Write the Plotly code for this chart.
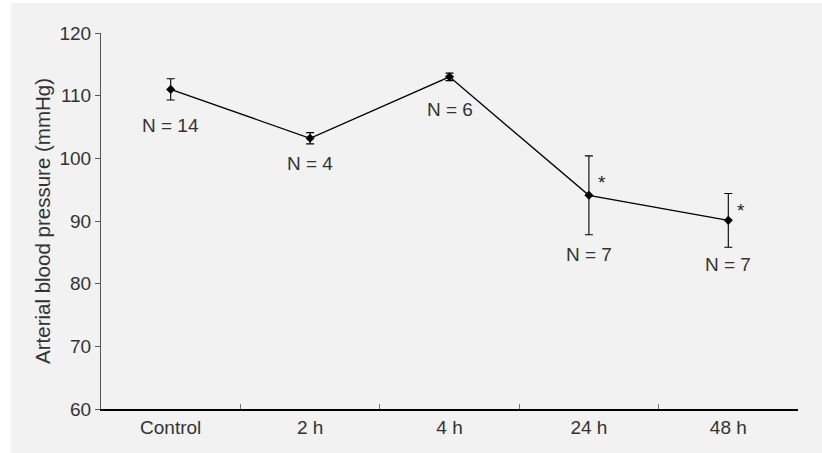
import plotly.graph_objects as go

categories = ["Control", "2 h", "4 h", "24 h", "48 h"]
pressure = [111.0, 103.2, 113.0, 94.1, 90.1]
error = [1.7, 0.9, 0.6, 6.3, 4.3]
n_labels = ["N = 14", "N = 4", "N = 6", "N = 7", "N = 7"]
n_label_y = [105.3, 99.2, 107.8, 84.7, 83.0]
significant = [False, False, False, True, True]
star_y = [None, None, None, 96.1, 91.6]

FONT = "Liberation Sans, Arial, sans-serif"

fig = go.Figure()
fig.add_trace(go.Scatter(
    x=categories, y=pressure, mode="lines+markers",
    line=dict(color="black", width=1.3),
    marker=dict(symbol="diamond", size=7, color="black"),
    error_y=dict(type="data", array=error, visible=True, color="black",
                 thickness=1.1, width=4),
    showlegend=False, hoverinfo="skip",
))

for c, t, yy in zip(categories, n_labels, n_label_y):
    fig.add_annotation(x=c, y=yy, text=t, showarrow=False,
                       font=dict(family=FONT, size=19, color="#333333"),
                       xanchor="center", yanchor="middle")

for c, s, yy in zip(categories, significant, star_y):
    if s:
        fig.add_annotation(x=c, y=yy, text="*", showarrow=False, xshift=13,
                           font=dict(family=FONT, size=19, color="#222222"),
                           xanchor="center", yanchor="middle")

fig.add_shape(type="rect", xref="paper", yref="paper",
              x0=-0.129, x1=1.1, y0=-0.3, y1=1.0798,
              fillcolor="#f2f2f2", line=dict(width=0), layer="below")

fig.update_layout(
    width=822, height=453,
    margin=dict(l=101, r=24, t=33, b=44),
    paper_bgcolor="#f2f2f2", plot_bgcolor="rgba(0,0,0,0)",
    font=dict(family=FONT, size=19, color="#333333"),
    xaxis=dict(
        type="category", categoryorder="array", categoryarray=categories,
        range=[-0.5, 4.5],
        showline=True, linecolor="black", linewidth=1.5,
        ticks="inside", tickson="boundaries", ticklen=5, tickcolor="#777777",
        showgrid=False, zeroline=False,
        tickfont=dict(family=FONT, size=19, color="#333333"),
    ),
    yaxis=dict(
        range=[60, 120], dtick=10, showline=True, linecolor="#555555",
        linewidth=1, ticks="outside", ticklen=5, tickcolor="#555555",
        showgrid=False, zeroline=False,
        tickfont=dict(family=FONT, size=19, color="#333333"),
        title=dict(text="Arterial blood pressure (mmHg)",
                   font=dict(family=FONT, size=20.5, color="#333333"),
                   standoff=3),
    ),
)

fig.add_shape(type="rect", xref="paper", yref="paper",
              x0=-0.2, x1=-0.129, y0=-0.3, y1=1.2,
              fillcolor="white", line=dict(width=0), layer="below")
fig.add_shape(type="rect", xref="paper", yref="paper",
              x0=-0.2, x1=1.1, y0=1.0798, y1=1.2,
              fillcolor="white", line=dict(width=0), layer="below")

fig.write_html("out.html", config={"displayModeBar": False},
               post_script="document.body.style.margin='0';")
